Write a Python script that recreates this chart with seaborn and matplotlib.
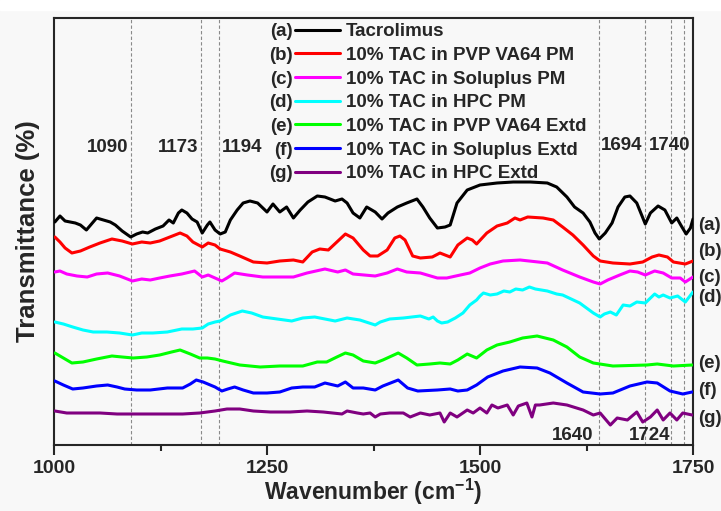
import matplotlib
matplotlib.use('Agg')
import matplotlib.pyplot as plt
import seaborn as sns
import pandas as pd
from matplotlib.patches import Rectangle

# FTIR spectra, offset traces (arbitrary transmittance units)
wn_a = [1001, 1007, 1013, 1019, 1025, 1031, 1038, 1045, 1050, 1058, 1066, 1072, 1080, 1090, 1097, 1104,
        1110, 1119, 1128, 1135, 1140, 1146, 1150, 1156, 1162, 1168, 1174, 1180, 1183, 1189, 1195, 1201,
        1207, 1215, 1222, 1230, 1239, 1250, 1257, 1265, 1273, 1281, 1289, 1298, 1309, 1318, 1330, 1338,
        1344, 1351, 1359, 1367, 1377, 1385, 1392, 1403, 1414, 1426, 1433, 1441, 1450, 1459, 1465, 1473,
        1485, 1500, 1520, 1539, 1559, 1579, 1590, 1602, 1611, 1621, 1629, 1635, 1640, 1647, 1655, 1662,
        1670, 1676, 1684, 1694, 1700, 1709, 1717, 1725, 1731, 1737, 1742, 1747, 1750]
tr_a = [223, 229, 224, 223, 222, 220, 215, 222, 227, 225, 223, 220, 214, 208, 211, 213,
        212, 216, 219, 225, 222, 232, 235, 232, 226, 223, 212, 220, 223, 215, 211, 213,
        225, 235, 242, 244, 242, 233, 241, 233, 238, 227, 235, 243, 249, 248, 244, 246,
        242, 232, 227, 238, 233, 226, 232, 238, 242, 246, 238, 227, 217, 218, 220, 242,
        255, 260, 262, 263, 263, 262, 258, 248, 238, 232, 223, 212, 206, 212, 222, 238,
        248, 249, 242, 221, 232, 239, 235, 222, 227, 218, 211, 217, 226]

wn_b = [1001, 1007, 1013, 1021, 1031, 1042, 1054, 1068, 1080, 1092, 1103, 1113, 1124, 1133, 1142, 1148,
        1156, 1163, 1174, 1181, 1189, 1195, 1207, 1218, 1234, 1250, 1265, 1281, 1292, 1303, 1312, 1322,
        1332, 1342, 1351, 1363, 1371, 1380, 1391, 1400, 1406, 1412, 1421, 1430, 1444, 1453, 1459, 1465,
        1474, 1485, 1491, 1496, 1508, 1520, 1532, 1541, 1547, 1556, 1574, 1586, 1597, 1609, 1621, 1633,
        1641, 1656, 1676, 1691, 1702, 1710, 1720, 1727, 1741, 1750]
tr_b = [208, 203, 197, 192, 194, 198, 202, 206, 204, 201, 203, 202, 204, 207, 210, 212,
        209, 203, 198, 202, 200, 196, 193, 189, 183, 182, 184, 185, 183, 193, 196, 195,
        203, 211, 207, 195, 189, 189, 195, 207, 209, 205, 189, 187, 188, 192, 190, 188,
        200, 207, 205, 201, 212, 219, 222, 227, 225, 228, 227, 225, 218, 210, 200, 189,
        184, 182, 181, 183, 188, 190, 188, 183, 181, 184]

wn_c = [1001, 1007, 1015, 1027, 1039, 1050, 1063, 1077, 1092, 1103, 1113, 1124, 1136, 1150, 1165, 1174,
        1181, 1189, 1197, 1203, 1212, 1227, 1245, 1265, 1281, 1297, 1318, 1333, 1342, 1351, 1377, 1391,
        1403, 1414, 1430, 1450, 1461, 1477, 1488, 1500, 1512, 1527, 1547, 1579, 1597, 1617, 1633, 1641,
        1650, 1664, 1676, 1685, 1694, 1705, 1715, 1725, 1735, 1741, 1750]
tr_c = [173, 174, 171, 169, 168, 171, 172, 169, 164, 166, 165, 167, 169, 171, 174, 168,
        170, 167, 164, 167, 172, 170, 168, 168, 168, 172, 176, 173, 175, 171, 169, 172,
        176, 173, 172, 167, 167, 170, 172, 177, 181, 184, 185, 182, 175, 168, 163, 161,
        165, 170, 174, 173, 170, 174, 172, 167, 167, 163, 168]

wn_d = [1001, 1011, 1022, 1034, 1046, 1062, 1077, 1092, 1103, 1116, 1133, 1150, 1163, 1174, 1181, 1189,
        1195, 1207, 1221, 1232, 1245, 1262, 1279, 1292, 1306, 1318, 1330, 1344, 1359, 1377, 1383, 1394,
        1410, 1430, 1440, 1445, 1450, 1455, 1462, 1471, 1480, 1488, 1496, 1500, 1504, 1512, 1520, 1528,
        1535, 1542, 1550, 1558, 1565, 1579, 1590, 1597, 1607, 1617, 1625, 1633, 1641, 1646, 1653, 1660,
        1668, 1676, 1684, 1694, 1705, 1710, 1715, 1723, 1732, 1741, 1750]
tr_d = [123, 121, 118, 115, 113, 113, 112, 110, 112, 112, 113, 116, 116, 117, 121, 123,
        124, 130, 134, 132, 128, 126, 124, 127, 128, 126, 124, 127, 125, 120, 123, 126,
        127, 129, 126, 128, 124, 122, 123, 127, 132, 140, 145, 149, 152, 150, 151, 154,
        153, 156, 155, 158, 156, 154, 151, 150, 146, 142, 137, 132, 128, 131, 133, 130,
        140, 139, 143, 142, 151, 148, 150, 147, 149, 143, 153]

wn_e = [1001, 1011, 1021, 1034, 1050, 1068, 1080, 1093, 1109, 1124, 1138, 1148, 1160, 1171, 1180, 1189,
        1198, 1218, 1242, 1265, 1292, 1309, 1320, 1332, 1342, 1351, 1363, 1377, 1386, 1404, 1414, 1426,
        1441, 1453, 1465, 1474, 1485, 1496, 1508, 1520, 1535, 1550, 1567, 1586, 1602, 1617, 1633, 1656,
        1696, 1708, 1727, 1749]
tr_e = [92, 87, 82, 83, 86, 89, 88, 87, 88, 90, 93, 95, 91, 87, 87, 86,
        84, 80, 78, 79, 79, 83, 83, 88, 92, 90, 84, 82, 85, 92, 87, 80,
        81, 82, 81, 85, 91, 87, 95, 100, 103, 107, 109, 105, 98, 88, 82, 79,
        80, 81, 79, 80]

wn_f = [1001, 1011, 1022, 1034, 1050, 1063, 1074, 1083, 1097, 1113, 1133, 1151, 1160, 1167, 1175, 1189,
        1197, 1204, 1212, 1222, 1234, 1250, 1265, 1279, 1292, 1306, 1318, 1333, 1342, 1351, 1363, 1377,
        1386, 1404, 1415, 1427, 1450, 1465, 1474, 1485, 1496, 1509, 1527, 1547, 1567, 1582, 1602, 1621,
        1641, 1656, 1676, 1696, 1708, 1723, 1738, 1749]
tr_f = [64, 60, 56, 57, 59, 60, 58, 56, 55, 55, 57, 57, 61, 65, 63, 58,
        54, 56, 58, 55, 52, 52, 53, 57, 58, 58, 62, 59, 63, 57, 57, 55,
        59, 65, 57, 54, 55, 56, 54, 55, 60, 68, 74, 78, 77, 72, 62, 53,
        51, 52, 59, 63, 62, 54, 51, 53]

wn_g = [1001, 1015, 1034, 1054, 1074, 1093, 1113, 1133, 1151, 1171, 1189, 1203, 1218, 1234, 1254, 1277,
        1297, 1316, 1338, 1344, 1356, 1363, 1371, 1377, 1383, 1394, 1410, 1418, 1430, 1441, 1453, 1458,
        1465, 1473, 1485, 1492, 1500, 1508, 1514, 1521, 1532, 1539, 1545, 1555, 1561, 1565, 1570, 1586,
        1602, 1621, 1633, 1641, 1653, 1661, 1673, 1684, 1691, 1700, 1708, 1715, 1723, 1731, 1738, 1749]
tr_g = [34, 32, 32, 32, 31, 31, 31, 31, 31, 32, 34, 36, 36, 34, 33, 33,
        34, 33, 31, 34, 32, 31, 32, 28, 31, 32, 32, 28, 32, 30, 32, 23,
        32, 28, 35, 32, 37, 32, 40, 37, 40, 30, 39, 42, 28, 40, 40, 42,
        40, 35, 30, 32, 20, 27, 25, 33, 23, 28, 35, 25, 32, 25, 32, 30]

samples = ['Tacrolimus', '10% TAC in PVP VA64 PM', '10% TAC in Soluplus PM', '10% TAC in HPC PM',
           '10% TAC in PVP VA64 Extd', '10% TAC in Soluplus Extd', '10% TAC in HPC Extd']
tags = ['(a)', '(b)', '(c)', '(d)', '(e)', '(f)', '(g)']
colors = ['#000000', '#ff0000', '#ff00ff', '#00ffff', '#00ff00', '#0000ff', '#800080']
tag_levels = [220, 194, 168, 148, 82, 55, 27]

peaks = [1090, 1173, 1194, 1640, 1694, 1724, 1740]
peak_labels = ['1090', '1173', '1194', '1640', '1694', '1724', '1740']
peak_label_x = [1087, 1169, 1245, 1633, 1691, 1723, 1747]
peak_label_y = [297, 297, 297, 10, 300, 10, 300]

series = [(wn_a, tr_a), (wn_b, tr_b), (wn_c, tr_c), (wn_d, tr_d), (wn_e, tr_e), (wn_f, tr_f), (wn_g, tr_g)]
df = pd.concat([pd.DataFrame({'wn': w, 't': t, 'sample': s}) for (w, t), s in zip(series, samples)],
               ignore_index=True)

sns.set_style('ticks')
plt.rcParams['font.family'] = ['Liberation Sans', 'DejaVu Sans']
plt.rcParams['font.weight'] = 'bold'
plt.rcParams['mathtext.default'] = 'regular'

bg = '#f8f8f8'
fig = plt.figure(figsize=(7.21, 5.11), dpi=100, facecolor=bg)
fig.patches.append(Rectangle((0, 1 - 10 / 511), 1, 10 / 511, transform=fig.transFigure,
                             color='white', zorder=0))
ax = fig.add_axes([54 / 721, 66 / 511, 639 / 721, 427 / 511])
ax.set_facecolor(bg)

for p in peaks:
    ax.axvline(p, color='#8a8a8a', lw=0.8, ls=(0, (3, 2)), zorder=1)

sns.lineplot(data=df, x='wn', y='t', hue='sample', hue_order=samples, palette=dict(zip(samples, colors)),
             sort=False, estimator=None, lw=2.2, ax=ax, zorder=3)

ax.set_xlim(1000, 1750)
ax.set_ylim(0, 427)
ax.set_xticks([1000, 1250, 1500, 1750])
ax.set_xticks([1125, 1375, 1625], minor=True)
ax.set_yticks([])
ax.tick_params(axis='x', which='major', length=7, width=1.5, labelsize=14, pad=4)
ax.tick_params(axis='x', which='minor', length=4, width=1.5)
for sp in ax.spines.values():
    sp.set_linewidth(1.5)
for lab in ax.get_xticklabels():
    lab.set_fontweight('bold')

ax.set_xlabel('Wavenumber (cm$^{-1}$)', fontsize=16.5, fontweight='bold', labelpad=0)
ax.set_ylabel('Transmittance (%)', fontsize=18.5, fontweight='bold', labelpad=10)

for txt, x, y in zip(peak_labels, peak_label_x, peak_label_y):
    ax.text(x, y, txt, ha='right', va='center', fontsize=13.5, fontweight='bold', zorder=4)

for tag, lev in zip(tags, tag_levels):
    ax.annotate(tag, xy=(1, lev), xycoords=('axes fraction', 'data'), xytext=(4, 0),
                textcoords='offset points', ha='left', va='center', fontsize=13.5,
                fontweight='bold', annotation_clip=False)

handles, labs = ax.get_legend_handles_labels()
leg = ax.legend(handles, labs, loc='upper left', bbox_to_anchor=(295 / 721, 1 - 23 / 511),
                bbox_transform=fig.transFigure, frameon=False, borderpad=0, borderaxespad=0,
                handlelength=2.4, handletextpad=0.3, labelspacing=0.35,
                prop={'size': 13.5, 'weight': 'bold'})
for h in leg.legend_handles:
    h.set_linewidth(2.2)

# the (a)...(g) tags sit left of each legend handle
fig.canvas.draw()
rend = fig.canvas.get_renderer()
W, H = fig.bbox.width, fig.bbox.height
for tag, t, h in zip(tags, leg.get_texts(), leg.legend_handles):
    tb = t.get_window_extent(rend)
    hb = h.get_window_extent(rend)
    fig.text((hb.x0 - 2) / W, (tb.y0 + tb.y1) / 2 / H, tag, ha='right', va='center',
             fontsize=13.5, fontweight='bold')

fig.savefig('out.png', dpi=100, facecolor=bg)
